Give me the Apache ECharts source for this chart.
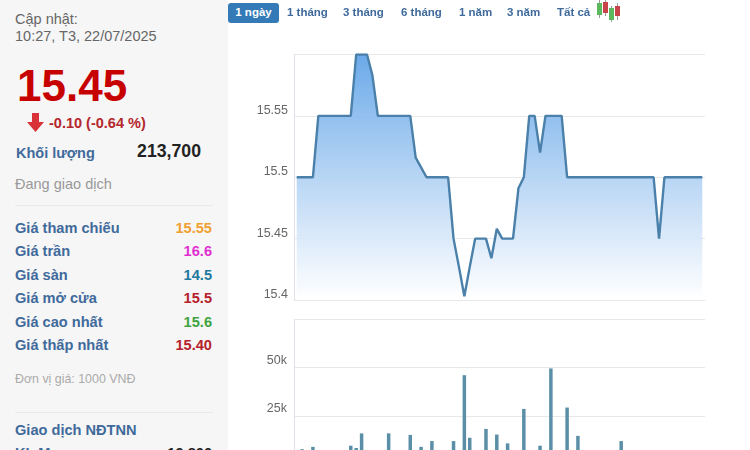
<!DOCTYPE html>
<html>
<head>
<meta charset="utf-8">
<title>15.45</title>
<script src="https://cdn.jsdelivr.net/npm/echarts@6/dist/echarts.min.js"></script>
<style>
html, body { margin: 0; padding: 0; width: 750px; height: 450px; overflow: hidden; background: #fff; font-family: Arial, "Liberation Sans", sans-serif; }
#side { position: absolute; left: 0; top: 0; width: 228px; height: 450px; background: #f6f6f6; overflow: hidden; }
#side div { position: absolute; white-space: nowrap; }
.hr { left: 15px; width: 198px; height: 1px; background: #eaeaea; }
.lbl { left: 15px; font-size: 14.6px; font-weight: bold; color: #3f6a9b; line-height: 18px; }
.val { right: 16px; font-size: 14.6px; font-weight: bold; line-height: 18px; }
#tabs span { position: absolute; top: 3px; height: 20px; line-height: 19px; font-size: 11.5px; font-weight: bold; color: #3f6a9b; white-space: nowrap; }
#tabs span.on { left: 228px; width: 51px; text-align: center; background: #337ab7; color: #fff; border-radius: 3px; }
/* cao hon cua so: truc khoi luong bi cat o duoi */
#container { position: absolute; left: 0; top: 0; width: 750px; height: 480px; }
</style>
</head>
<body>
<div id="container"></div>
<div id="side">
	<div style="left:15px;top:11px;font-size:14.5px;line-height:17px;color:#666">Cập nhật:<br>10:27, T3, 22/07/2025</div>
	<div style="left:17px;top:61px;font-size:44px;line-height:50px;font-weight:bold;color:#c70000">15.45</div>
	<svg style="position:absolute;left:27px;top:113px" width="18" height="20"><path d="M5 0h7v9h5l-8.5 10L0 9h5z" fill="#d9333a"/></svg>
	<div style="left:49px;top:114px;font-size:14.5px;line-height:18px;font-weight:bold;color:#b5262c">-0.10 (-0.64 %)</div>
	<div class="lbl" style="top:144px;left:16px;font-size:14.5px">Khối lượng</div>
	<div style="right:27px;top:141px;font-size:17.7px;line-height:20px;font-weight:bold;color:#222">213,700</div>
	<div style="left:15px;top:175px;font-size:14.5px;line-height:18px;color:#999">Đang giao dịch</div>
	<div class="hr" style="top:205px"></div>
	<div style="left:15px;top:372px;font-size:12.4px;line-height:15px;color:#aaa">Đơn vị giá: 1000 VNĐ</div>
	<div class="hr" style="top:412px"></div>
	<div class="lbl" style="top:421px">Giao dịch NĐTNN</div>
	<div class="lbl" style="top:444px">KL Mua</div>
	<div class="val" style="top:444px;color:#222">19,800</div>
</div>
<div id="tabs"></div>
<svg style="position:absolute;left:595px;top:0" width="26" height="22">
	<path d="M4.5 0v18M10.5 0v16M16.5 6v16M22.5 3v17" stroke="#999" fill="none"/>
	<rect x="2" y="3" width="5" height="12" fill="#5cb85c"/>
	<rect x="8" y="2" width="5" height="11" fill="#c9434a"/>
	<rect x="14" y="8" width="5" height="12" fill="#5cb85c"/>
	<rect x="20" y="6" width="5" height="10" fill="#c9434a"/>
</svg>
<script>
var tabNames = ['1 ngày', '1 tháng', '3 tháng', '6 tháng', '1 năm', '3 năm', 'Tất cả'];
var tabLefts = [228, 287, 343, 401, 459, 507, 557];
var rowNames = ['Giá tham chiếu', 'Giá trần', 'Giá sàn', 'Giá mở cửa', 'Giá cao nhất', 'Giá thấp nhất'];
var rowValues = ['15.55', '16.6', '14.5', '15.5', '15.6', '15.40'];
var rowColors = ['#f0a030', '#e030d0', '#1f7a9e', '#b5202a', '#3fa33f', '#b5202a'];
var rowTops = [219, 242, 266, 289, 313, 336];

var priceLabels = ['15.4', '15.45', '15.5', '15.55', ''];
var volumeLabels = ['', '25k', '50k', ''];

// gia theo tung phut
var prices = [15.5, 15.5, 15.5, 15.5, 15.55, 15.55, 15.55, 15.55, 15.55, 15.55, 15.55,
	15.6, 15.6, 15.6, 15.583, 15.55, 15.55, 15.55, 15.55, 15.55, 15.55, 15.55,
	15.516, 15.508, 15.5, 15.5, 15.5, 15.5, 15.5, 15.45, 15.427, 15.403, 15.427,
	15.45, 15.45, 15.45, 15.434, 15.458, 15.45, 15.45, 15.45, 15.491, 15.5,
	15.55, 15.55, 15.52, 15.55, 15.55, 15.55, 15.55, 15.5, 15.5, 15.5, 15.5, 15.5,
	15.5, 15.5, 15.5, 15.5, 15.5, 15.5, 15.5, 15.5, 15.5, 15.5, 15.5, 15.5, 15.45,
	15.5, 15.5, 15.5, 15.5, 15.5, 15.5, 15.5, 15.5];
var volumes = [0, 7700, 0, 8900, 0, 0, 0, 0, 0, 0, 9500,
	8300, 15900, 0, 0, 0, 0, 15900, 0, 0, 0, 15100,
	0, 8900, 0, 11900, 0, 0, 0, 11900, 0, 46100, 13600,
	0, 0, 18200, 0, 15300, 0, 10700, 0, 0, 28600,
	0, 0, 9500, 0, 49600, 0, 0, 29300, 0, 14600, 0, 0,
	0, 0, 0, 0, 0, 11900, 0, 0, 0, 0, 0, 0, 0,
	0, 0, 0, 0, 0, 0, 0, 0];
var times = prices.map(function (p, i) { return i; });

var rowsHtml = '';
rowNames.forEach(function (name, i) {
	rowsHtml += '<div class="lbl" style="top:' + rowTops[i] + 'px">' + name + '</div>';
	rowsHtml += '<div class="val" style="top:' + rowTops[i] + 'px;color:' + rowColors[i] + '">' + rowValues[i] + '</div>';
});
document.getElementById('side').insertAdjacentHTML('beforeend', rowsHtml);

var tabsHtml = '';
tabNames.forEach(function (name, i) {
	tabsHtml += '<span ' + (i === 0 ? 'class="on"' : 'style="left:' + tabLefts[i] + 'px"') + '>' + name + '</span>';
});
document.getElementById('tabs').innerHTML = tabsHtml;

var myChart = echarts.init(document.getElementById('container'), null, { renderer: 'canvas' });

var gridLine = { show: true, lineStyle: { color: '#e8e8e8', width: 1 } };
var leftLine = { show: true, lineStyle: { color: '#dde3e8', width: 1 } };
var labelStyle = { color: '#666', fontSize: 12.5, fontFamily: 'Arial, "Liberation Sans", sans-serif', margin: 6, verticalAlign: 'bottom' };

myChart.setOption({
	animation: false,
	grid: [
		{ left: 294, top: 54.5, width: 411, height: 245.5 },
		{ left: 294, top: 319.5, width: 411, height: 144.5 }
	],
	xAxis: [
		{ type: 'category', gridIndex: 0, data: times, axisLabel: { show: false }, axisTick: { show: false }, axisLine: { show: true, lineStyle: { color: '#e8e8e8' } } },
		{ type: 'category', gridIndex: 1, data: times, axisLabel: { show: false }, axisTick: { show: false }, axisLine: { show: false } }
	],
	yAxis: [
		{
			type: 'value', gridIndex: 0, min: 15.4, max: 15.6, interval: 0.05,
			axisLine: leftLine, axisTick: { show: false }, splitLine: gridLine,
			axisLabel: Object.assign({}, labelStyle, { padding: [0, 0, -1, 0], formatter: function (v, i) { return priceLabels[i]; } })
		},
		{
			type: 'value', gridIndex: 1, min: 0, max: 75000, interval: 25000,
			axisLine: leftLine, axisTick: { show: false }, splitLine: gridLine,
			axisLabel: Object.assign({}, labelStyle, { margin: 7, padding: [0, 0, 1, 0], formatter: function (v, i) { return volumeLabels[i]; } })
		}
	],
	series: [
		{
			name: 'Giá', type: 'line', xAxisIndex: 0, yAxisIndex: 0, data: prices,
			showSymbol: false, smooth: false,
			lineStyle: { color: '#4a80a9', width: 2.4 },
			areaStyle: {
				origin: 'start',
				opacity: 1,
				color: new echarts.graphic.LinearGradient(0, 0, 0, 1, [
					{ offset: 0, color: 'rgba(100,165,232,0.95)' },
					{ offset: 1, color: 'rgba(255,255,255,0.9)' }
				])
			}
		},
		{
			name: 'Khối lượng', type: 'bar', xAxisIndex: 1, yAxisIndex: 1, data: volumes,
			barWidth: 3.5, itemStyle: { color: '#5b8fa8' }
		}
	]
});
</script>
</body>
</html>
